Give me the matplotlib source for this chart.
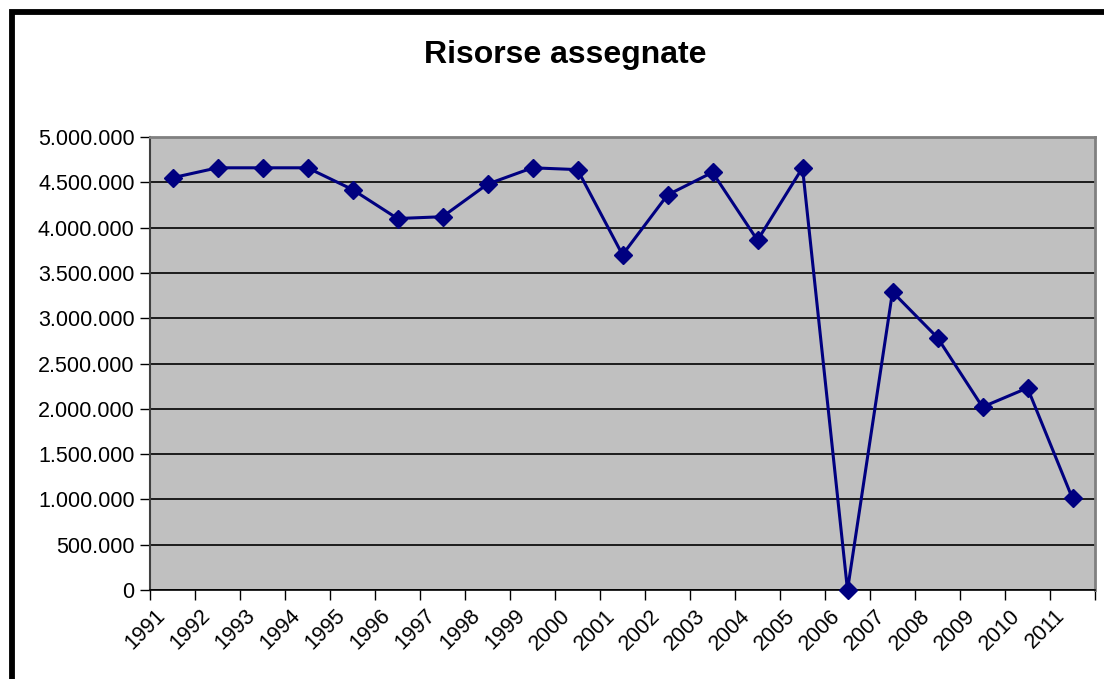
import matplotlib.pyplot as plt
from matplotlib.patches import Rectangle
from matplotlib.ticker import FuncFormatter, MultipleLocator

plt.rcParams['font.family'] = ['Liberation Sans', 'DejaVu Sans']

anni = list(range(1991, 2012))
risorse = [4550000, 4660000, 4660000, 4660000, 4420000, 4100000, 4120000,
           4480000, 4660000, 4640000, 3700000, 4360000, 4610000, 3860000,
           4660000, 0, 3290000, 2785000, 2020000, 2230000, 1010000]

fig = plt.figure(figsize=(11.04, 6.79), dpi=100)
W, H = 1104, 679

# cornice esterna del grafico (tagliata a destra e in basso)
fig.patches.append(Rectangle((11.5 / W, -0.2), 1.5, 1.2 - 12.5 / H,
                             transform=fig.transFigure, fill=False,
                             edgecolor='black', linewidth=4.2, zorder=0))

ax = fig.add_axes([150 / W, 1 - 590 / H, 945 / W, 453 / H])
ax.set_facecolor('#C0C0C0')

x = [i + 0.5 for i in range(len(anni))]
ax.plot(x, risorse, color='#000080', linewidth=2.2, marker='D',
        markersize=9, markerfacecolor='#000080', markeredgecolor='#000080',
        zorder=3, clip_on=False)

ax.set_xlim(0, len(anni))
ax.set_ylim(0, 5000000)
ax.yaxis.set_major_locator(MultipleLocator(500000))
ax.yaxis.set_major_formatter(FuncFormatter(lambda v, p: f"{int(v):,}".replace(',', '.')))
ax.grid(axis='y', color='black', linewidth=1.2, zorder=1)
ax.set_axisbelow(True)

# tacche ai confini delle categorie, etichette su tacche minori invisibili
ax.set_xticks(range(len(anni) + 1))
ax.set_xticklabels([])
ax.set_xticks([i + 0.1 for i in range(len(anni))], minor=True)
ax.set_xticklabels([str(a) for a in anni], minor=True, rotation=45,
                   ha='right', va='top', rotation_mode='anchor')

ax.tick_params(axis='both', direction='out', length=7, width=1,
               labelsize=15.5, colors='black')
ax.tick_params(axis='y', pad=4)
ax.tick_params(axis='x', which='minor', length=0, pad=11, labelsize=15.5)

for s in ['top', 'right']:
    ax.spines[s].set_color('#808080')
    ax.spines[s].set_linewidth(2)
ax.spines['left'].set_color('#404040')
ax.spines['left'].set_linewidth(1.5)
ax.spines['bottom'].set_color('black')
ax.spines['bottom'].set_linewidth(1.2)

fig.text(565 / W, 1 - 55 / H, 'Risorse assegnate', ha='center', va='center',
         fontsize=23, fontweight='bold')

fig.savefig('out.png', dpi=100)
